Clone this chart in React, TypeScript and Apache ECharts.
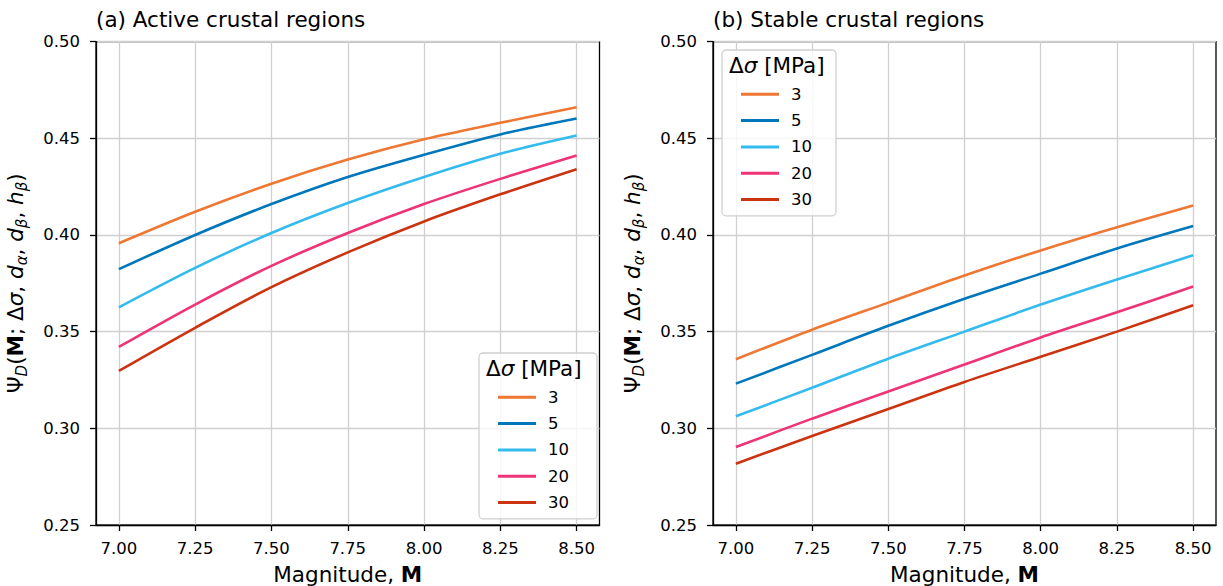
import React, { useEffect, useRef } from "react";
import * as echarts from "echarts";

// ---- data ----
const magnitudes = [7.0, 7.25, 7.5, 7.75, 8.0, 8.25, 8.5];
const stressDrops = ["3", "5", "10", "20", "30"];
const seriesColors = ["#EE7733", "#0077BB", "#33BBEE", "#EE3377", "#CC3311"];
const xTicks = [7.0, 7.25, 7.5, 7.75, 8.0, 8.25, 8.5];
const panelTitles = ["(a) Active crustal regions", "(b) Stable crustal regions"];

const active3 = [0.3957, 0.412, 0.4265, 0.439, 0.4495, 0.458, 0.466];
const active5 = [0.3823, 0.4, 0.416, 0.43, 0.4415, 0.452, 0.4602];
const active10 = [0.3626, 0.383, 0.401, 0.4165, 0.43, 0.442, 0.4514];
const active20 = [0.3421, 0.364, 0.384, 0.401, 0.416, 0.429, 0.4411];
const active30 = [0.3297, 0.352, 0.373, 0.391, 0.407, 0.421, 0.434];

const stable3 = [0.3357, 0.351, 0.365, 0.379, 0.392, 0.404, 0.4152];
const stable5 = [0.3231, 0.338, 0.353, 0.367, 0.38, 0.393, 0.4046];
const stable10 = [0.3062, 0.321, 0.336, 0.35, 0.364, 0.377, 0.3895];
const stable20 = [0.2903, 0.305, 0.319, 0.333, 0.347, 0.36, 0.3733];
const stable30 = [0.2817, 0.296, 0.31, 0.324, 0.337, 0.35, 0.3636];

const activeSets = [active3, active5, active10, active20, active30];
const stableSets = [stable3, stable5, stable10, stable20, stable30];

const FONT = "DejaVu Sans";

export default function App() {
  const ref = useRef<HTMLDivElement>(null);

  useEffect(() => {
    if (!ref.current) return;
    const chart = echarts.init(ref.current, null, { renderer: "svg" });

    const grids = [
      { left: 96, top: 41.6, width: 503.5, height: 483.4 },
      { left: 713, top: 41.6, width: 503, height: 483.4 },
    ];

    const xAxes = grids.map((_, i) => ({
      type: "value",
      gridIndex: i,
      min: 6.925,
      max: 8.575,
      axisLine: { show: true, onZero: false, lineStyle: { color: "#000", width: 1.3 } },
      axisTick: {
        show: true,
        length: 6,
        customValues: xTicks,
        lineStyle: { color: "#000", width: 1.3 },
      },
      axisLabel: {
        customValues: xTicks,
        formatter: (v: number) => v.toFixed(2),
        fontSize: 16.5,
        fontFamily: FONT,
        color: "#000",
        margin: 15,
      },
      splitLine: { show: true, lineStyle: { color: "#d0d0d0", width: 1.3 } },
      name: "Magnitude, {b|M}",
      nameLocation: "middle",
      nameGap: 38,
      nameTextStyle: {
        fontSize: 21.5,
        fontFamily: FONT,
        color: "#000",
        rich: { b: { fontSize: 21.5, fontFamily: FONT, fontWeight: "bold", color: "#000" } },
      },
    }));

    const nRich = { fontSize: 21.5, fontFamily: FONT, color: "#000", lineHeight: 28, verticalAlign: "middle" };
    const yAxes = grids.map((_, i) => ({
      type: "value",
      gridIndex: i,
      min: 0.25,
      max: 0.5,
      interval: 0.05,
      axisLine: { show: true, onZero: false, lineStyle: { color: "#000", width: 1.3 } },
      axisTick: { show: true, length: 6, lineStyle: { color: "#000", width: 1.3 } },
      axisLabel: {
        formatter: (v: number) => v.toFixed(2),
        fontSize: 16.5,
        fontFamily: FONT,
        color: "#000",
        margin: 16,
      },
      splitLine: { show: true, lineStyle: { color: "#d0d0d0", width: 1.3 } },
      name:
        "{n|Ψ}{s|D}{n|(}{b|M}{n|; Δ}{i|σ}{n|, }{i|d}{s|α}{n|, }{i|d}{s|β}{n|, }{i|h}{s|β}{n|)}",
      nameLocation: "middle",
      nameRotate: 90,
      nameGap: 67,
      nameTextStyle: {
        fontSize: 21.5,
        fontFamily: FONT,
        color: "#000",
        rich: {
          n: nRich,
          b: { ...nRich, fontWeight: "bold" },
          i: { ...nRich, fontStyle: "italic" },
          s: {
            fontSize: 15,
            fontFamily: FONT,
            fontStyle: "italic",
            color: "#000",
            lineHeight: 14,
            verticalAlign: "bottom",
          },
        },
      },
    }));

    const series: any[] = [];
    [activeSets, stableSets].forEach((sets, panel) => {
      sets.forEach((vals, k) => {
        series.push({
          type: "line",
          name: stressDrops[k],
          xAxisIndex: panel,
          yAxisIndex: panel,
          data: magnitudes.map((m, j) => [m, vals[j]]),
          smooth: 0.3,
          showSymbol: false,
          symbol: "none",
          color: seriesColors[k],
          lineStyle: { width: 2.6, color: seriesColors[k] },
          z: 3,
        });
      });
    });

    const legendCommon = {
      orient: "vertical",
      icon: "rect",
      itemWidth: 38,
      itemHeight: 3,
      itemGap: 9.3,
      data: stressDrops,
      selectedMode: false,
      backgroundColor: "rgba(255,255,255,0.8)",
      borderColor: "#d0d0d0",
      borderWidth: 1.3,
      borderRadius: 4,
      textStyle: { fontSize: 16.5, fontFamily: FONT, color: "#000", padding: [0, 0, 0, 7] },
      z: 10,
    };

    const legendTitleRich = {
      d: { fontSize: 21.5, fontFamily: FONT, fill: "#000" },
      i: { fontSize: 21.5, fontFamily: FONT, fontStyle: "italic", fill: "#000" },
    };

    const option: any = {
      animation: false,
      backgroundColor: "#fff",
      title: panelTitles.map((t, i) => ({
        text: t,
        left: i === 0 ? 96 : 713,
        top: 8,
        padding: 0,
        textStyle: { fontSize: 21.5, fontWeight: "normal", fontFamily: FONT, color: "#000" },
      })),
      grid: grids.map((g) => ({
        ...g,
        show: true,
        borderColor: "#000",
        borderWidth: 1.3,
        backgroundColor: "transparent",
        containLabel: false,
        outerBoundsMode: "none",
      })),
      xAxis: xAxes,
      yAxis: yAxes,
      legend: [
        { ...legendCommon, left: 479, top: 353, padding: [35.8, 28, 7.8, 19] },
        { ...legendCommon, left: 722, top: 50, padding: [35.8, 24, 7.8, 19] },
      ],
      graphic: [
        {
          type: "text",
          left: 486,
          top: 357,
          z: 100,
          style: { text: "{d|Δ}{i|σ}{d| [MPa]}", rich: legendTitleRich, font: `21.5px "${FONT}"` },
        },
        {
          type: "text",
          left: 729,
          top: 54,
          z: 100,
          style: { text: "{d|Δ}{i|σ}{d| [MPa]}", rich: legendTitleRich, font: `21.5px "${FONT}"` },
        },
      ],
      series,
    };

    chart.setOption(option);
    return () => chart.dispose();
  }, []);

  return (
    <div
      ref={ref}
      style={{ position: "absolute", left: 0, top: 0, width: 1223, height: 586 }}
    />
  );
}
